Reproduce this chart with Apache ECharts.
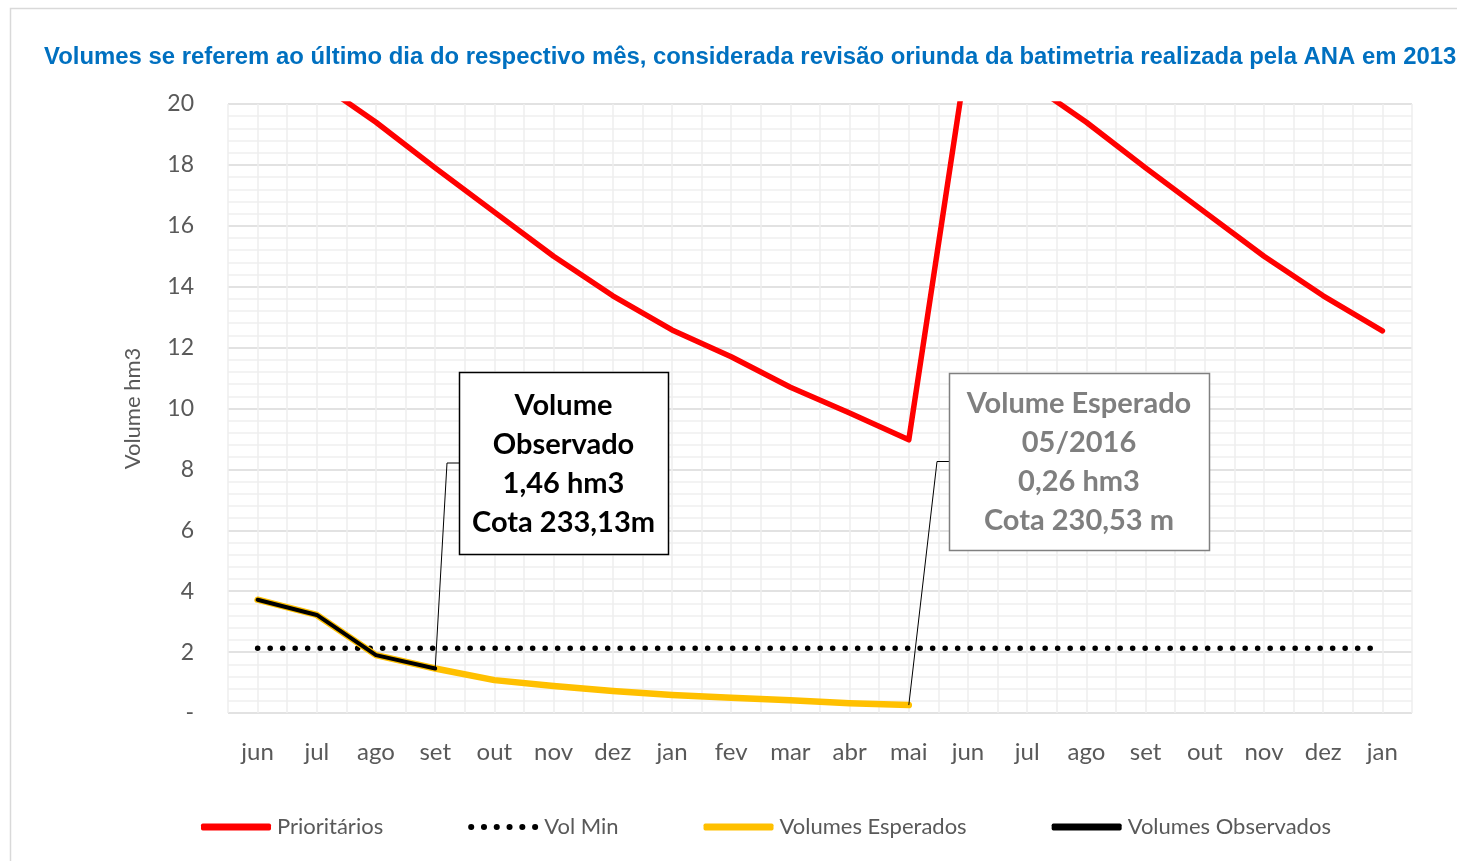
<!DOCTYPE html>
<html>
<head>
<meta charset="utf-8">
<script src="https://cdn.jsdelivr.net/npm/echarts@6/dist/echarts.min.js"></script>
<style>
html,body{margin:0;padding:0;background:#fff;}
#chart{width:1457px;height:861px;}
</style>
</head>
<body>
<div id="chart"></div>
<script>
const categories = ['jun','jul','ago','set','out','nov','dez','jan','fev','mar','abr','mai','jun','jul','ago','set','out','nov','dez','jan'];
const prioritarios = [21.8,20.75,19.4,17.9,16.45,15.0,13.7,12.58,11.7,10.7,9.85,8.97,21.8,20.75,19.4,17.9,16.45,15.0,13.7,12.55];
const volMin = [2.13,2.13,2.13,2.13,2.13,2.13,2.13,2.13,2.13,2.13,2.13,2.13,2.13,2.13,2.13,2.13,2.13,2.13,2.13,2.13];
const esperados = [3.72,3.22,1.9,1.46,1.08,0.89,0.72,0.59,0.5,0.42,0.32,0.26,null,null,null,null,null,null,null,null];
const observados = [3.72,3.22,1.9,1.46,null,null,null,null,null,null,null,null,null,null,null,null,null,null,null,null];
const yTicks = {min:0, max:20, interval:2};
const subtitle = 'Volumes se referem ao último dia do respectivo mês, considerada revisão oriunda da batimetria realizada pela ANA em 2013';
const calloutObs = ['Volume','Observado','1,46 hm3','Cota 233,13m'];
const calloutEsp = ['Volume Esperado','05/2016','0,26 hm3','Cota 230,53 m'];

const chart = echarts.init(document.getElementById('chart'));
const FONT = 'Lato';
const dotsIcon = 'path://M0,3a3,3 0 1,0 6,0a3,3 0 1,0 -6,0M12.6,3a3,3 0 1,0 6,0a3,3 0 1,0 -6,0M25.2,3a3,3 0 1,0 6,0a3,3 0 1,0 -6,0M37.8,3a3,3 0 1,0 6,0a3,3 0 1,0 -6,0M50.4,3a3,3 0 1,0 6,0a3,3 0 1,0 -6,0M63,3a3,3 0 1,0 6,0a3,3 0 1,0 -6,0';
chart.setOption({
  animation:false,
  backgroundColor:'#ffffff',
  title:{
    text: subtitle, left:39, top:40,
    textStyle:{color:'#0070C0', fontFamily:'Liberation Sans', fontWeight:'bold', fontSize:23.9}
  },
  grid:{left:228, right:45, top:104, bottom:148},
  legend:{
    left:196, top:811, itemGap:85, itemWidth:70, itemHeight:7,
    textStyle:{color:'#595959', fontFamily:FONT, fontSize:22, padding:[0,0,0,1]},
    data:[
      {name:'Prioritários', icon:'roundRect'},
      {name:'Vol Min', icon:dotsIcon},
      {name:'Volumes Esperados', icon:'roundRect'},
      {name:'Volumes Observados', icon:'roundRect'}
    ]
  },
  xAxis:[{
    type:'category', data:categories, boundaryGap:true,
    axisLine:{show:false}, axisTick:{show:false},
    axisLabel:{color:'#595959', fontFamily:FONT, fontSize:24, margin:27},
    splitLine:{show:false}
  },{
    type:'value', min:0, max:40, interval:1, show:true, position:'top',
    axisLine:{show:false}, axisTick:{show:false}, axisLabel:{show:false},
    splitLine:{show:true, lineStyle:{color:'#eeeeee', width:1.5}}
  }],
  yAxis:{
    type:'value', min:yTicks.min, max:yTicks.max, interval:yTicks.interval,
    name:'Volume hm3', nameLocation:'middle', nameGap:84, nameRotate:90,
    nameTextStyle:{color:'#595959', fontFamily:FONT, fontSize:22},
    axisLine:{show:false}, axisTick:{show:false},
    axisLabel:{color:'#595959', fontFamily:FONT, fontSize:23, margin:34,
      formatter:v=> v===0 ? '-' : String(v)},
    splitLine:{show:true, lineStyle:{color:'#d9d9d9', width:1.5}},
    minorTick:{show:false, splitNumber:5},
    minorSplitLine:{show:true, lineStyle:{color:'#efefef', width:1.5}}
  },
  series:[
    {name:'Prioritários', type:'line', data:prioritarios, symbol:'none', z:3,
     lineStyle:{color:'#ff0000', width:5.5, cap:'round', join:'round'}, itemStyle:{color:'#ff0000'}},
    {name:'Vol Min', type:'line', data:volMin, symbol:'none', z:3,
     lineStyle:{color:'#000000', width:5.5, type:[0.1,12.4], cap:'round'}, itemStyle:{color:'#000000'}},
    {name:'Volumes Esperados', type:'line', data:esperados, symbol:'none', z:4,
     lineStyle:{color:'#FFC000', width:6.5, cap:'round', join:'round'}, itemStyle:{color:'#FFC000'}},
    {name:'Volumes Observados', type:'line', data:observados, symbol:'none', z:5,
     lineStyle:{color:'#000000', width:4, cap:'round', join:'round'}, itemStyle:{color:'#000000'}}
  ]
});

function callout(idx, val, box, lines, color, borderColor){
  const p = chart.convertToPixel({xAxisIndex:0, yAxisIndex:0}, [idx, val]);
  const elbowY = box.y + box.h/2;
  return [
    {type:'polyline', z:20, shape:{points:[p,[box.x-12, elbowY],[box.x, elbowY]]},
     style:{stroke:'#000', lineWidth:1, fill:null}},
    {type:'rect', z:20, shape:{x:box.x+0.5, y:box.y+0.5, width:box.w, height:box.h},
     style:{fill:'#ffffff', stroke:borderColor, lineWidth:1.5}},
    {type:'text', z:21, x:box.x+box.w/2, y:box.y+box.h/2+1,
     style:{text:lines.join('\n'), fill:color, font:'bold 29px Lato', align:'center', verticalAlign:'middle', lineHeight:39}}
  ];
}
const g = [
  {type:'rect', z:0, shape:{x:10.5, y:8.5, width:1500, height:900}, style:{fill:null, stroke:'#d9d9d9', lineWidth:1.5}},
  ...callout(3, observados[3], {x:459, y:372, w:209, h:182}, calloutObs, '#000000', '#000000'),
  ...callout(11, esperados[11], {x:949, y:373, w:260, h:177}, calloutEsp, '#7f7f7f', '#808080')
];
chart.setOption({graphic:g});
</script>
</body>
</html>
